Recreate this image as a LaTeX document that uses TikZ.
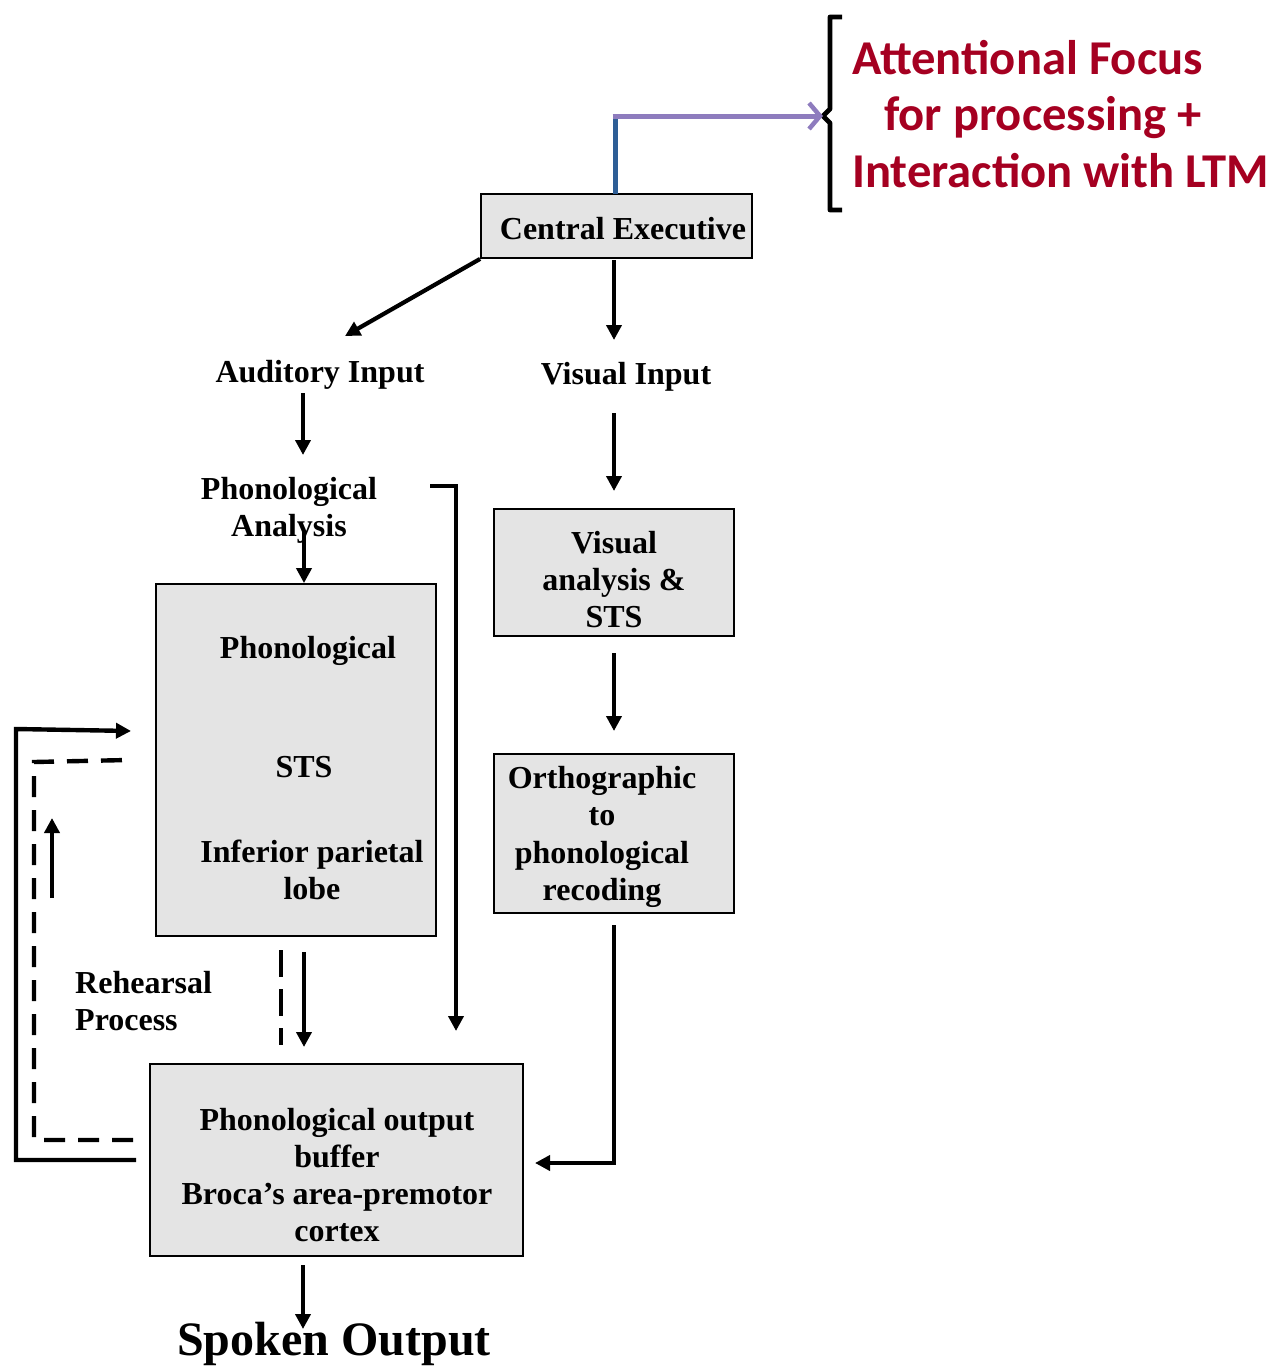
\documentclass[tikz,border=0pt]{standalone}
\usepackage{fontspec}
\setmainfont{Liberation Serif}
\newfontfamily\focusfont{Carlito}
\usetikzlibrary{arrows.meta}
\definecolor{boxgray}{RGB}{228,228,228}
\definecolor{focusred}{RGB}{165,0,33}
\definecolor{linkpurple}{RGB}{142,124,190}
\definecolor{linkblue}{RGB}{46,94,150}
\begin{document}
\begin{tikzpicture}[x=1pt,y=-1pt,
  box/.style={draw, line width=1.8pt, fill=boxgray, inner sep=0pt},
  lbl/.style={font=\fontsize{32}{37.3}\selectfont\bfseries, align=center, inner sep=0pt, yshift=-3pt},
  focus/.style={font=\focusfont\fontsize{48.6}{56}\selectfont\bfseries, text=focusred, inner sep=0pt},
  flow/.style={line width=4.2pt, -{Triangle[length=15pt,width=15pt]}},
  loop/.style={line width=4.4pt},
  rehearse/.style={line width=4.4pt, dash pattern=on 21pt off 13pt}]
\useasboundingbox (0,0) rectangle (1287,1368);

% ---- boxes ----
\node[box, minimum width=271pt, minimum height=64pt] (ce) at (616.5,226) {};
\node[lbl] at (623,226) {Central Executive};

\node[box, minimum width=280pt, minimum height=352pt] (phon) at (296,760) {};
\node[lbl] (phontitle) at (308,648) {Phonological};
\node[lbl] (sts) at (304,764) {STS};
\node[lbl] (ipl) at (312,867) {Inferior parietal\\lobe};

\node[box, minimum width=240pt, minimum height=127pt] (vis) at (614,572.5) {};
\node[lbl] at (614,576.5) {Visual\\analysis \&\\STS};

\node[box, minimum width=240pt, minimum height=159pt] (orth) at (614,833.5) {};
\node[lbl] at (602,834) {Orthographic\\to\\phonological\\recoding};

\node[box, minimum width=373pt, minimum height=192pt] (out) at (336.5,1160) {};
\node[lbl] at (337,1172) {Phonological output\\buffer\\Broca’s area-premotor\\cortex};

% ---- free labels ----
\node[lbl] (aud) at (320,372) {Auditory Input};
\node[lbl] (visin) at (626,374) {Visual Input};
\node[lbl] (phana) at (289,507) {Phonological\\Analysis};
\node[lbl, align=left, anchor=west] (reh) at (75,998) {Rehearsal\\Process};
\node[font=\fontsize{48}{56}\selectfont\bfseries, inner sep=0pt, yshift=-4pt] (spoken) at (334,1340) {Spoken Output};

% ---- attentional focus ----
\node[focus, anchor=base west] (af1) at (852,74) {Attentional Focus};
\node[focus, anchor=base west] (af2) at (884,130.5) {for processing +};
\node[focus, anchor=base west] (af3) at (852,187) {Interaction with LTM};
\draw[line width=4.8pt, line join=round]
  (842,17) -- (830,17) -- (830,109) -- (823,116) -- (830,123) -- (830,210) -- (842,210);
\coordinate (cetop) at (615,194);
\coordinate (bend) at (615,116);
\coordinate (brace) at (823,116);
\draw[linkblue, line width=5pt] (cetop) -- (bend);
\draw[linkpurple, line width=5pt, -{Straight Barb[length=11pt,width=26pt,line width=4.5pt]}]
  ([xshift=-2.5pt]bend) -- (brace);

% ---- connectors ----
\coordinate (audtip) at (345,336);
\draw[flow] (ce.south west) -- (audtip);
\coordinate (cedown) at (614,260);
\coordinate (visintip) at (614,340);
\draw[flow] (cedown) -- (visintip);

\coordinate (aud1) at (303,393);
\coordinate (aud2) at (303,455);
\draw[flow] (aud1) -- (aud2);

\coordinate (vi1) at (614,413);
\coordinate (vi2) at (614,491);
\draw[flow] (vi1) -- (vi2);

\coordinate (pa1) at (304,530);
\draw[flow] (pa1) -- (phon.north -| pa1);

\coordinate (by0) at (430,486);
\coordinate (by1) at (456,486);
\coordinate (by2) at (456,1031);
\draw[flow, line join=miter] (by0) -- (by1) -- (by2);

\coordinate (va1) at (614,653);
\coordinate (va2) at (614,731);
\draw[flow] (va1) -- (va2);

\coordinate (or1) at (614,925);
\coordinate (or2) at (614,1163);
\coordinate (or3) at (535,1163);
\draw[flow, line join=miter] (or1) -- (or2) -- (or3);

\coordinate (ds1) at (281,950);
\coordinate (ds2) at (281,1045);
\draw[line width=4.4pt, dash pattern=on 27pt off 12pt] (ds1) -- (ds2);
\coordinate (sd1) at (304,952);
\coordinate (sd2) at (304,1047);
\draw[flow] (sd1) -- (sd2);

\coordinate (so1) at (303,1265);
\coordinate (so2) at (303,1329);
\draw[flow] (so1) -- (so2);

% ---- rehearsal loop ----
\coordinate (lp0) at (136,1160);
\coordinate (lp1) at (16,1160);
\coordinate (lp2) at (16,729);
\coordinate (lp3) at (131,731);
\draw[loop, line join=miter, -{Triangle[length=15pt,width=15pt]}] (lp0) -- (lp1) -- (lp2) -- (lp3);

\coordinate (rd0) at (133,1140);
\coordinate (rd1) at (34,1140);
\coordinate (rd2) at (34,762);
\coordinate (rd3) at (128,760);
\draw[rehearse] (rd0) -- (rd1) -- (rd2) -- (rd3);

\coordinate (up1) at (52,898);
\coordinate (up2) at (52,818);
\draw[flow] (up1) -- (up2);
\end{tikzpicture}
\end{document}
